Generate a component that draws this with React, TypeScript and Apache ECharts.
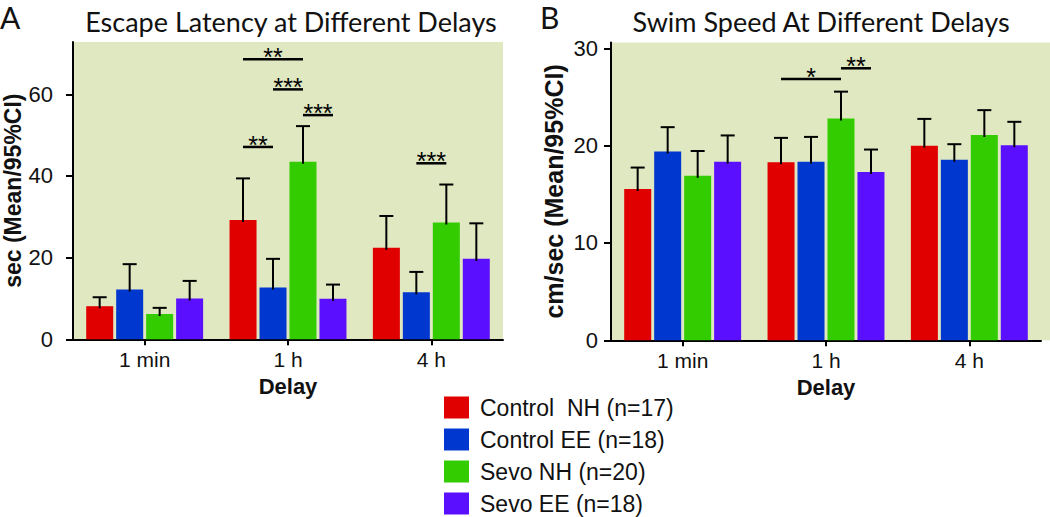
import React, { useEffect, useRef } from 'react';
import * as echarts from 'echarts';

// ---------- data ----------
const categories = ['1 min', '1 h', '4 h'];
const groups = ['Control  NH (n=17)', 'Control EE (n=18)', 'Sevo NH (n=20)', 'Sevo EE (n=18)'];
const colors = ['#e10000', '#0037cf', '#33cc00', '#5b0fff'];

// Panel A: escape latency (sec), mean per group x delay
const latencyMean = [
  [8.1, 29.2, 22.4],
  [12.2, 12.7, 11.5],
  [6.2, 43.5, 28.6],
  [10.0, 9.9, 19.7],
];
// upper 95% CI
const latencyUpper = [
  [10.3, 39.4, 30.2],
  [18.4, 19.7, 16.5],
  [7.7, 52.2, 37.9],
  [14.3, 13.4, 28.4],
];
// Panel B: swim speed (cm/sec)
const speedMean = [
  [15.55, 18.3, 20.0],
  [19.4, 18.35, 18.55],
  [16.9, 22.8, 21.1],
  [18.35, 17.3, 20.05],
];
const speedUpper = [
  [17.75, 20.8, 22.75],
  [21.9, 20.9, 20.15],
  [19.45, 25.55, 23.65],
  [21.05, 19.6, 22.45],
];
// significance brackets: [category, fromGroup, toGroup, yValue]
const latencySig = [
  [1, 0, 2, 68.6],
  [1, 1, 2, 61.2],
  [1, 2, 3, 54.9],
  [1, 0, 1, 47.1],
  [2, 1, 2, 43.1],
];
const latencySigLabels = ['**', '***', '***', '**', '***'];
const speedSig = [
  [1, 0, 2, 26.85],
  [1, 2, 3, 27.95],
];
const speedSigLabels = ['*', '**'];

const latencyTicks = [0, 20, 40, 60];
const speedTicks = [0, 10, 20, 30];

// ---------- style ----------
const SANS = '"Liberation Sans", Arial, Helvetica, sans-serif';
const NARROW = '"Liberation Sans Narrow", "Arial Narrow", "Liberation Sans", sans-serif';
const HUMAN = 'Lato, "Open Sans", sans-serif';
const BG = '#dfe8c0';
const INK = '#111';
const BAR_W = 27;
const BAR_STEP = 30;

function errorRender(params: any, api: any) {
  const cat = api.value(0);
  const g = api.value(1);
  const base = api.coord([cat, api.value(2)]);
  const top = api.coord([cat, api.value(3)]);
  const x = base[0] + (g - 1.5) * BAR_STEP;
  return {
    type: 'group',
    children: [
      { type: 'line', shape: { x1: x, y1: base[1] + 2, x2: x, y2: top[1] }, style: { stroke: '#000', lineWidth: 2 } },
      { type: 'line', shape: { x1: x - 7, y1: top[1], x2: x + 7, y2: top[1] }, style: { stroke: '#000', lineWidth: 2 } },
    ],
  };
}

function sigRender(labels: string[]) {
  return (params: any, api: any) => {
    const cat = api.value(0);
    const p = api.coord([cat, api.value(3)]);
    const x1 = p[0] + (api.value(1) - 1.5) * BAR_STEP;
    const x2 = p[0] + (api.value(2) - 1.5) * BAR_STEP;
    return {
      type: 'group',
      children: [
        { type: 'line', shape: { x1, y1: p[1], x2, y2: p[1] }, style: { stroke: '#000', lineWidth: 2.5 } },
        {
          type: 'text',
          x: (x1 + x2) / 2,
          y: p[1] - 2,
          style: { text: labels[params.dataIndex], align: 'center', verticalAlign: 'middle', font: `25px ${SANS}`, fill: '#000' },
        },
      ],
    };
  };
}

function errorData(mean: number[][], upper: number[][]) {
  const out: number[][] = [];
  mean.forEach((row, g) => row.forEach((m, c) => out.push([c, g, m, upper[g][c]])));
  return out;
}

function xAxisCfg(gridIndex: number) {
  return {
    type: 'category',
    gridIndex,
    data: categories,
    axisLine: { show: true, lineStyle: { color: '#000', width: 2 } },
    axisTick: { show: true, alignWithLabel: true, length: 6, lineStyle: { color: '#000', width: 2 } },
    axisLabel: { color: INK, fontFamily: SANS, fontSize: 21, margin: 10 },
    name: 'Delay',
    nameLocation: 'middle',
    nameGap: 35,
    nameTextStyle: { color: INK, fontFamily: SANS, fontSize: 22, fontWeight: 'bold' },
  };
}

function yAxisCfg(gridIndex: number, max: number, interval: number, ticks: number[], name: string, nameSize: number, nameGap: number, labelFont: string, labelMargin: number) {
  return {
    type: 'value',
    gridIndex,
    min: 0,
    max,
    interval,
    splitLine: { show: false },
    axisLine: { show: true, lineStyle: { color: '#000', width: 2 } },
    axisTick: { show: true, length: 7, customValues: ticks, lineStyle: { color: '#000', width: 2 } },
    axisLabel: { color: INK, fontFamily: labelFont, fontSize: 22, margin: labelMargin, customValues: ticks },
    name,
    nameLocation: 'middle',
    nameRotate: 90,
    nameGap,
    nameTextStyle: { color: INK, fontFamily: SANS, fontSize: nameSize, fontWeight: 'bold' },
  };
}

const option: any = {
  animation: false,
  backgroundColor: '#fff',
  title: [
    { text: 'A', left: 0, top: 2, padding: 0, textStyle: { fontFamily: HUMAN, fontSize: 30, fontWeight: 'normal', color: INK } },
    { text: 'B', left: 540, top: 2, padding: 0, textStyle: { fontFamily: HUMAN, fontSize: 30, fontWeight: 'normal', color: INK } },
    { text: 'Escape Latency at Different Delays', left: 291, top: 8, padding: 0, textAlign: 'center', textStyle: { fontFamily: HUMAN, fontSize: 27, fontWeight: 'normal', color: INK } },
    { text: 'Swim Speed At Different Delays', left: 821, top: 8, padding: 0, textAlign: 'center', textStyle: { fontFamily: HUMAN, fontSize: 27, fontWeight: 'normal', color: INK } },
  ],
  legend: {
    data: groups,
    orient: 'vertical',
    left: 444,
    top: 396,
    height: 140,
    padding: 0,
    itemWidth: 25,
    itemHeight: 22,
    itemGap: 9,
    icon: 'rect',
    textStyle: { color: INK, fontFamily: SANS, fontSize: 23, padding: [0, 0, 0, 6] },
  },
  grid: [
    { left: 73, right: 547, top: 42, bottom: 177.7, show: true, backgroundColor: BG, borderWidth: 0 },
    { left: 611, right: 9, top: 42.5, bottom: 176.7, show: true, backgroundColor: BG, borderWidth: 0 },
  ],
  graphic: [
    { type: 'rect', z: 0, shape: { x: 1041, y: 42.5, width: 9, height: 297.8 }, style: { fill: BG } },
  ],
  xAxis: [xAxisCfg(0), xAxisCfg(1)],
  yAxis: [
    yAxisCfg(0, 72.8, 20, latencyTicks, 'sec (Mean/95%CI)', 23, 32, NARROW, 20),
    yAxisCfg(1, 30.6, 10, speedTicks, 'cm/sec (Mean/95%CI)', 25, 45, SANS, 13),
  ],
  series: [
    ...groups.map((name, g) => ({
      type: 'bar', name, xAxisIndex: 0, yAxisIndex: 0, data: latencyMean[g], barWidth: BAR_W, barGap: '11%',
      itemStyle: { color: colors[g] }, silent: true,
    })),
    ...groups.map((name, g) => ({
      type: 'bar', name, xAxisIndex: 1, yAxisIndex: 1, data: speedMean[g], barWidth: BAR_W, barGap: '11%',
      itemStyle: { color: colors[g] }, silent: true,
    })),
    { type: 'custom', xAxisIndex: 0, yAxisIndex: 0, z: 4, silent: true, renderItem: errorRender, encode: { x: 0, y: [2, 3] }, data: errorData(latencyMean, latencyUpper) },
    { type: 'custom', xAxisIndex: 1, yAxisIndex: 1, z: 4, silent: true, renderItem: errorRender, encode: { x: 0, y: [2, 3] }, data: errorData(speedMean, speedUpper) },
    { type: 'custom', xAxisIndex: 0, yAxisIndex: 0, z: 4, silent: true, renderItem: sigRender(latencySigLabels), encode: { x: 0, y: 3 }, data: latencySig },
    { type: 'custom', xAxisIndex: 1, yAxisIndex: 1, z: 4, silent: true, renderItem: sigRender(speedSigLabels), encode: { x: 0, y: 3 }, data: speedSig },
  ],
};

export default function App() {
  const ref = useRef<HTMLDivElement>(null);
  useEffect(() => {
    const chart = echarts.init(ref.current!, null, { renderer: 'svg' });
    chart.setOption(option);
    return () => chart.dispose();
  }, []);
  return <div ref={ref} style={{ position: 'absolute', left: 0, top: 0, width: 1050, height: 517, background: '#fff' }} />;
}
